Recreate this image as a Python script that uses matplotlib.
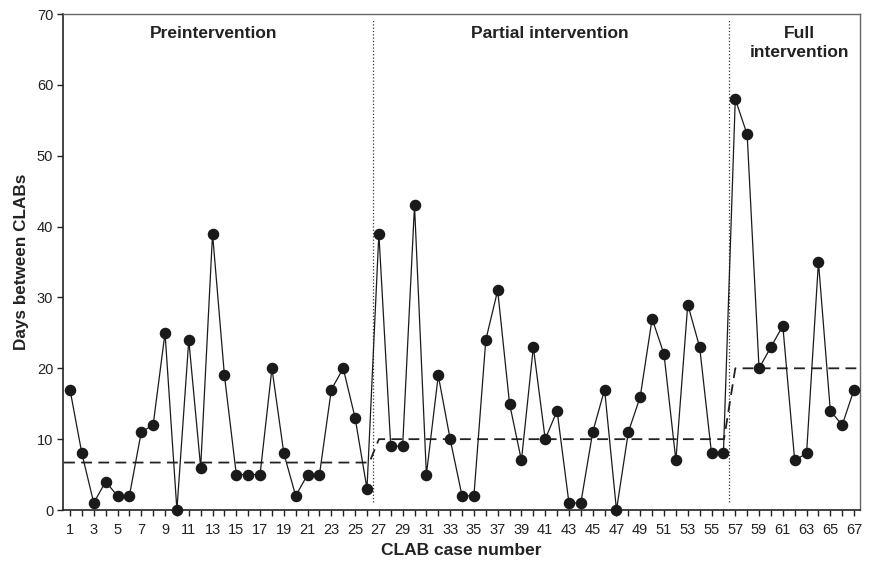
import matplotlib
matplotlib.use("Agg")
import matplotlib.pyplot as plt
import numpy as np

plt.rcParams['font.family'] = ['Liberation Sans', 'DejaVu Sans']

case_numbers = list(range(1, 68))
days = [17, 8, 1, 4, 2, 2, 11, 12, 25, 0, 24, 6, 39, 19, 5, 5, 5, 20, 8, 2,
        5, 5, 17, 20, 13, 3, 39, 9, 9, 43, 5, 19, 10, 2, 2, 24, 31, 15, 7, 23,
        10, 14, 1, 1, 11, 17, 0, 11, 16, 27, 22, 7, 29, 23, 8, 8, 58, 53, 20, 23,
        26, 7, 8, 35, 14, 12, 17]

# phase centre (dashed) line
center_x = [0.5, 26.2, 27.0, 56.05, 57.0, 67.2]
center_y = [6.7, 6.7, 10.0, 10.0, 20.0, 20.0]

phase_bounds = [26.5, 56.5]
phase_labels = ["Preintervention", "Partial intervention", "Full\nintervention"]
phase_label_x = [13.1, 41.4, 62.4]
phase_label_y = [68.3, 68.3, 68.3]

fig = plt.figure(figsize=(8.71, 5.62), dpi=100)
ax = fig.add_axes([0.0723, 0.0925, 0.9874 - 0.0723, 0.975 - 0.0925])

ax.plot(center_x, center_y, linestyle=(0, (6, 3.5)), color='#222222', lw=1.3, zorder=2)
ax.plot(case_numbers, days, color='#1a1a1a', lw=0.9, marker='o', markersize=7.3,
        markerfacecolor='#1a1a1a', markeredgecolor='#1a1a1a', clip_on=False, zorder=3)

for xb in phase_bounds:
    ax.plot([xb, xb], [1.2, 69.2], linestyle=':', color='#333333', lw=0.9, zorder=1)

for lab, lx, ly in zip(phase_labels, phase_label_x, phase_label_y):
    ax.text(lx, ly, lab, ha='center', va='top', fontsize=12.5, fontweight='bold',
            color='#222222', linespacing=1.35)

ax.set_xlim(0.41, 67.5)
ax.set_ylim(0, 70)
ax.set_xticks(case_numbers)
ax.set_xticklabels([str(c) if c % 2 == 1 else '' for c in case_numbers])
ax.set_yticks(np.arange(0, 71, 10))
ax.tick_params(axis='both', direction='out', length=4, width=1, labelsize=10.5,
               colors='#222222')
ax.tick_params(axis='x', pad=5)
ax.tick_params(axis='y', pad=3)

ax.set_xlabel("CLAB case number", fontsize=12.5, fontweight='bold', color='#222222', labelpad=5)
ax.set_ylabel("Days between CLABs", fontsize=12.3, fontweight='bold', color='#222222', labelpad=6)

for s in ['left', 'bottom']:
    ax.spines[s].set_color('#222222')
    ax.spines[s].set_linewidth(1.2)
for s in ['top', 'right']:
    ax.spines[s].set_color('#666666')
    ax.spines[s].set_linewidth(1.0)

fig.savefig("out.png", dpi=100)
